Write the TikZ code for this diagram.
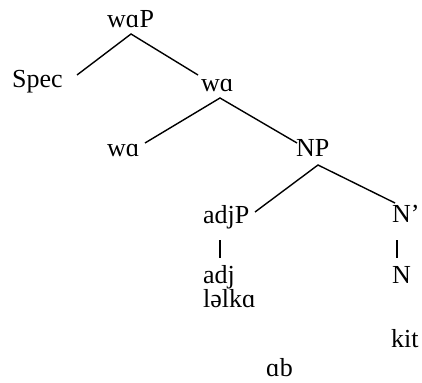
\documentclass[tikz,border=0pt]{standalone}
\usepackage{fontspec}
\setmainfont{Liberation Serif}
\begin{document}
\begin{tikzpicture}[x=1pt,y=-1pt,
  lbl/.style={anchor=base west,inner sep=0pt,font=\fontsize{26}{31}\selectfont},
  edge/.style={line width=1.4pt,black}]
\useasboundingbox (0,0) rectangle (422,382);
\node[lbl] (wap) at (107,28) {wɑP};
\node[lbl] (spec) at (12,88) {Spec};
\node[lbl] (wa1) at (201,92) {wɑ};
\node[lbl] (wa2) at (107,157) {wɑ};
\node[lbl] (np) at (296,157) {NP};
\node[lbl] (adjp) at (203,223) {adjP};
\node[lbl] (nbar) at (392,222) {N’};
\node[lbl] (adj) at (203,283) {adj};
\node[lbl] (n) at (392,283) {N};
\node[lbl] (lelka) at (203,307) {ləlkɑ};
\node[lbl] (kit) at (391,347) {kit};
\node[lbl] (ab) at (266,376) {ɑb};
\coordinate (wapB) at (131,34);
\coordinate (specT) at (77,75);
\coordinate (wa1T) at (198,75);
\coordinate (wa1B) at (220,98);
\coordinate (wa2T) at (145,143);
\coordinate (npT) at (297,143);
\coordinate (npB) at (318,165);
\coordinate (adjpT) at (255,212);
\coordinate (nbarT) at (395,203);
\coordinate (adjpB) at (220,240);
\coordinate (adjT) at (220,258);
\coordinate (nbarB) at (397,240);
\coordinate (nT) at (397,258);
\draw[edge] (specT) -- (wapB) -- (wa1T);
\draw[edge] (wa2T) -- (wa1B) -- (npT);
\draw[edge] (adjpT) -- (npB) -- (nbarT);
\draw[edge] (adjpB) -- (adjT);
\draw[edge] (nbarB) -- (nT);
\end{tikzpicture}
\end{document}
